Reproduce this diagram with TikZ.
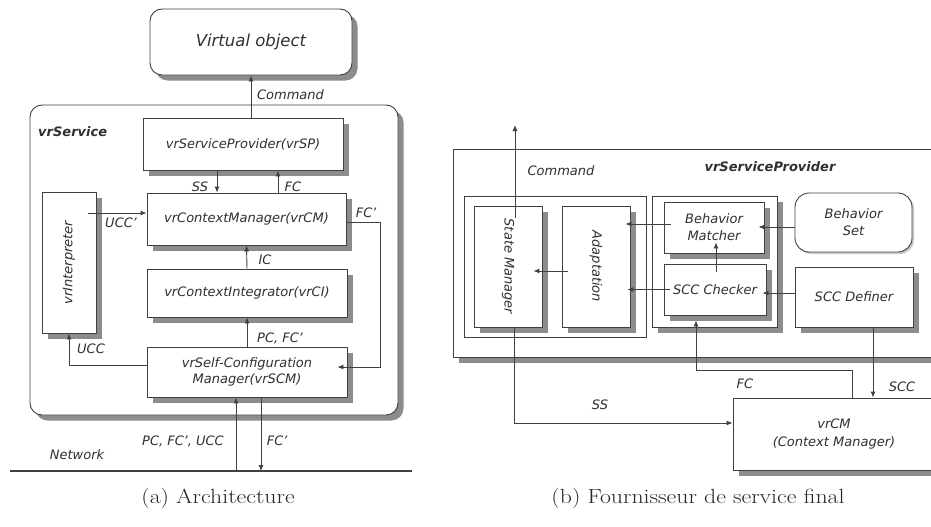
\documentclass[tikz,border=0pt]{standalone}
\usepackage{fontspec}
\newfontfamily\dgfont{DejaVu Sans}
\newfontfamily\capfont[FakeStretch=1.16]{Latin Modern Roman}
\usetikzlibrary{arrows.meta,shadows}
\definecolor{lnc}{HTML}{404040}
\definecolor{txc}{HTML}{303030}
\definecolor{shc}{HTML}{8C8C8C}
\definecolor{shl}{HTML}{C8C8C8}
\begin{document}
\begin{tikzpicture}[x=1pt,y=-1pt,
  dg/.style={font=\dgfont\itshape\fontsize{13}{16}\selectfont, text=txc},
  lbl/.style={dg, inner sep=0pt},
  boldlbl/.style={lbl, font=\dgfont\bfseries\itshape\fontsize{13}{16}\selectfont},
  box/.style={dg, draw=lnc, line width=0.9pt, fill=white, inner sep=0pt, align=center},
  shd/.style={drop shadow={shadow xshift=5.5pt, shadow yshift=-5.5pt, fill=shc, opacity=1}},
  lightshd/.style={drop shadow={shadow xshift=2pt, shadow yshift=-2pt, fill=shl, opacity=1}},
  arr/.style={draw=lnc, line width=0.9pt, -{Latex[length=6pt,width=5pt]}},
  captxt/.style={font=\capfont\fontsize{20.5}{24}\selectfont, text=black!85, inner sep=0pt},
]
\clip (0,0) rectangle (931,527);
\fill[white] (0,0) rectangle (931,527);

% ---------- (a) ----------
\node[box, shd, rounded corners=12pt, minimum width=202pt, minimum height=66pt,
      font=\dgfont\itshape\fontsize{16.5}{19}\selectfont] (vo) at (251,42) {Virtual object};
\node[box, shd, rounded corners=12pt, minimum width=368pt, minimum height=310pt] (svc) at (214,260) {};
\node[boldlbl, anchor=west] (svcl) at (38,132) {vrService};
\node[box, shd, minimum width=200pt, minimum height=52pt] (sp) at (243,144) {vrServiceProvider(vrSP)};
\node[box, shd, minimum width=199pt, minimum height=52pt] (cm) at (246.5,219) {vrContextManager(vrCM)};
\node[box, shd, minimum width=54pt, minimum height=141pt] (int) at (69,262.5) {};
\node[lbl, rotate=90] (intl) at (int.center) {vrInterpreter};
\node[box, shd, minimum width=200pt, minimum height=48pt] (ci) at (247,293) {vrContextIntegrator(vrCI)};
\node[box, shd, minimum width=200pt, minimum height=50pt] (scm) at (247,372) {vrSelf-Configuration\\Manager(vrSCM)};
\coordinate (netL) at (10,471);
\coordinate (netR) at (412,471);
\draw[lnc, line width=2.2pt] (netL) -- (netR);

\draw[arr] (vo.south |- sp.north) -- (vo.south);
\draw[arr] ([xshift=-26pt]sp.south) -- ([xshift=-26pt]sp.south |- cm.north);
\draw[arr] ([xshift=31.5pt]cm.north) -- ([xshift=31.5pt]cm.north |- sp.south);
\draw[arr, shorten <=-8pt] ([yshift=49.5pt]int.east) -- ([yshift=49.5pt]int.east -| cm.west);
\draw[arr, shorten >=-10pt] ([yshift=-3pt]cm.east) -- ++(34,0) |- ([yshift=5pt]scm.east);
\draw[arr] (ci.north) -- (cm.south);
\draw[arr] (scm.north) -- (ci.south);
\draw[arr] ([yshift=7pt]scm.west) -| (int.south);
\draw[arr] ([xshift=-11pt]scm.south |- netL) -- ([xshift=-11pt]scm.south);
\draw[arr] ([xshift=14pt]scm.south) -- ([xshift=14pt]scm.south |- netL);

\node[lbl] (lcmd) at (290.5,95) {Command};
\node[lbl] (lss) at (200,187) {SS};
\node[lbl] (lfc) at (293,187) {FC};
\node[lbl] (lucc1) at (121,223) {UCC’};
\node[lbl] (lfc1) at (366,213) {FC’};
\node[lbl] (lic) at (265,260) {IC};
\node[lbl] (lpcfc) at (280,338) {PC, FC’};
\node[lbl] (lucc) at (91,349) {UCC};
\node[lbl] (lpfu) at (183,441) {PC, FC’, UCC};
\node[lbl] (lfc2) at (277,441) {FC’};
\node[lbl] (lnet) at (77,455) {Network};
\node[captxt] (capa) at (218,498) {(a) Architecture};

% ---------- (b) ----------
\node[box, shd, minimum width=507pt, minimum height=208pt] (vsp) at (706.5,253) {};
\node[boldlbl] (vspl) at (770,167) {vrServiceProvider};
\node[lbl] (lcmd2) at (561,171) {Command};
\node[box, minimum width=182pt, minimum height=141pt] (g1) at (555,266.5) {};
\node[box, shd, minimum width=68pt, minimum height=121pt] (sm) at (508,266.5) {};
\node[lbl, rotate=-90] (sml) at (sm.center) {State Manager};
\node[box, shd, minimum width=68pt, minimum height=121pt] (ad) at (596,266.5) {};
\node[lbl, rotate=-90] (adl) at (ad.center) {Adaptation};
\node[box, shd, minimum width=125pt, minimum height=131pt] (g2) at (714.5,261.5) {};
\node[box, shd, minimum width=100pt, minimum height=51pt, font=\dgfont\itshape\fontsize{13}{17}\selectfont] (bm) at (714,227.5) {Behavior\\Matcher};
\node[box, shd, minimum width=102pt, minimum height=51pt] (sc) at (715,289.5) {SCC Checker};
\node[box, lightshd, rounded corners=14pt, minimum width=117pt, minimum height=59pt, font=\dgfont\itshape\fontsize{13}{17}\selectfont] (bs) at (853.5,222.5) {Behavior\\Set};
\node[box, shd, minimum width=118pt, minimum height=60pt] (sd) at (854,297) {SCC Definer};
\node[box, shd, minimum width=202pt, minimum height=72pt, font=\dgfont\itshape\fontsize{13}{18}\selectfont] (cm2) at (834,434) {vrCM\\(Context Manager)};

\coordinate (cmdtop) at (515,125);
\draw[arr, shorten <=-12pt] ([xshift=7pt]sm.north) -- (cmdtop);
\draw[arr, shorten <=-7pt, shorten >=-5pt] ([yshift=3.5pt]bm.west) -- ([yshift=3.5pt]bm.west -| ad.east);
\draw[arr, shorten <=-6pt, shorten >=-3pt] (sc.west) -- (sc.west -| ad.east);
\draw[arr, shorten <=-6pt, shorten >=-9pt] ([yshift=-4.5pt]ad.west) -- ([yshift=-4.5pt]ad.west -| sm.east);
\draw[arr, shorten <=-8pt, shorten >=-11pt] ([xshift=1pt]sc.north) -- ([xshift=1pt]sc.north |- bm.south);
\draw[arr, shorten >=-6pt] ([yshift=-4.5pt]bs.west) -- ([yshift=-4.5pt]bs.west -| bm.east);
\draw[arr, shorten >=-4pt] ([yshift=4pt]sd.west) -- ([yshift=4pt]sd.west -| sc.east);
\draw[arr] ([xshift=19pt]sd.south) -- ([xshift=19pt]sd.south |- cm2.north);
\draw[arr, shorten >=-7pt] ([xshift=18pt]cm2.north) -- ++(0,-27) -| ([xshift=-18.5pt]g2.south);
\draw[arr] ([xshift=6pt]sm.south) |- ([yshift=11pt]cm2.west);

\node[lbl] (lscc) at (902,387) {SCC};
\node[lbl] (lfc3) at (745,384) {FC};
\node[lbl] (lss2) at (600,405) {SS};
\node[captxt] (capb) at (698,498) {(b) Fournisseur de service final};
\end{tikzpicture}
\end{document}
